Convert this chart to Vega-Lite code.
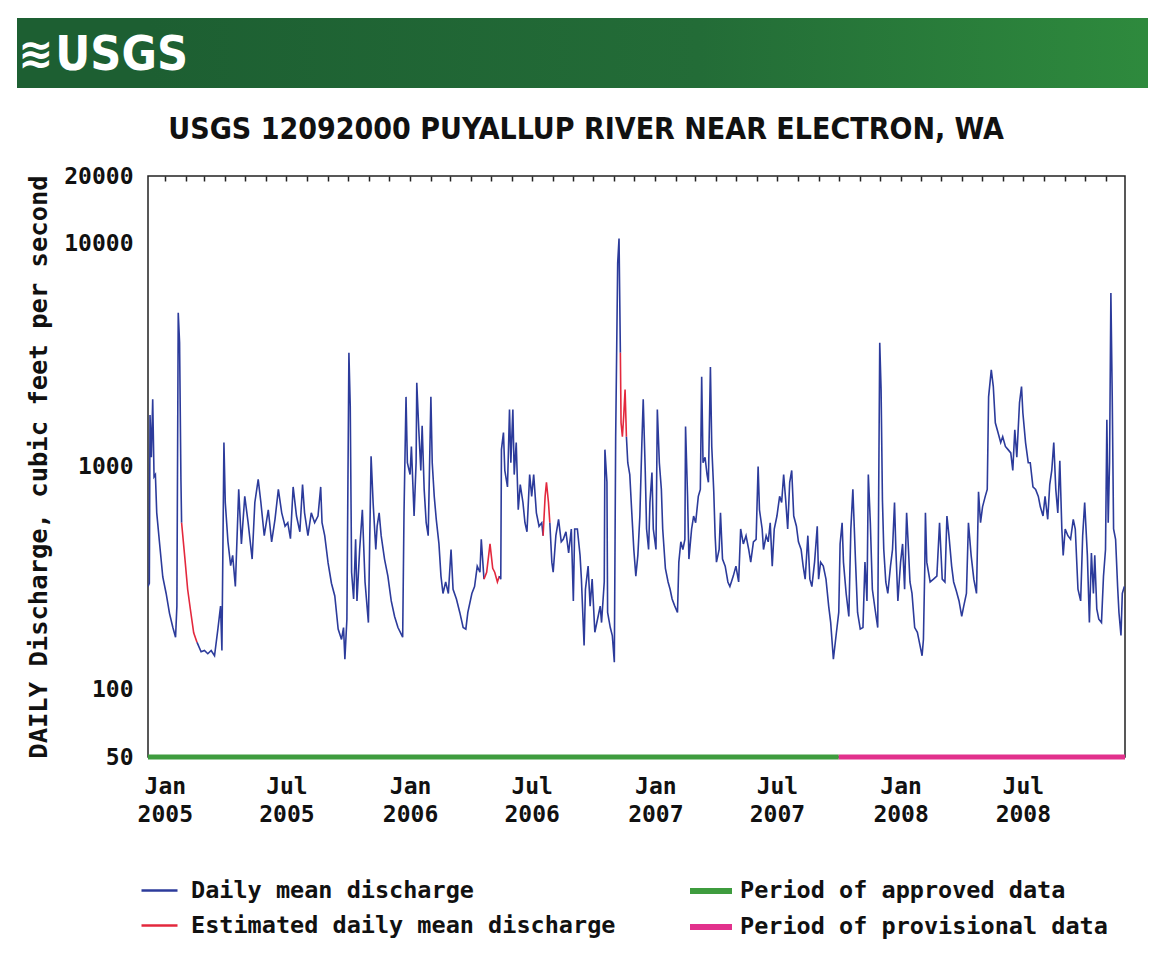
{
  "$schema": "https://vega.github.io/schema/vega-lite/v6.json",
  "background": "white",
  "padding": {"left": 17, "top": 18, "right": 5, "bottom": 5},
  "columns": 2,
  "align": "each",
  "bounds": "flush",
  "spacing": {"row": 88, "column": 0},
  "config": {
    "view": {"stroke": null},
    "axis": {"labelFont": "DejaVu Sans Mono", "labelFontWeight": "bold", "labelColor": "#111", "titleFont": "DejaVu Sans Mono", "titleFontWeight": "bold", "titleColor": "#111"},
    "legend": {"labelFont": "DejaVu Sans Mono", "labelFontWeight": "bold", "labelColor": "#111", "labelFontSize": 23.5, "labelLimit": 700, "padding": 0}
  },
  "concat": [
    {
      "width": 131,
      "height": 70,
      "data": {"values": [{"t": "≋"}]},
      "layer": [
        {"mark": {"type": "rect", "fill": "#1d5f32", "stroke": null}},
        {"mark": {"type": "text", "align": "center", "baseline": "middle", "dx": -47, "dy": 2, "fontSize": 42, "font": "DejaVu Sans, sans-serif", "fontWeight": "bold", "color": "white"}, "encoding": {"text": {"field": "t"}}}
      ]
    },
    {
      "width": 1000,
      "height": 70,
      "data": {"values": [{"t": "USGS"}]},
      "layer": [
        {"mark": {"type": "rect", "stroke": null, "fill": {"gradient": "linear", "x1": 0, "x2": 1, "y1": 0, "y2": 0, "stops": [{"offset": 0, "color": "#1d5f32"}, {"offset": 0.55, "color": "#236c37"}, {"offset": 1, "color": "#2e8a3d"}]}}},
        {"mark": {"type": "text", "align": "right", "baseline": "middle", "dx": -460, "dy": 3, "fontSize": 48, "font": "DejaVu Sans Condensed, DejaVu Sans, sans-serif", "fontWeight": "bold", "color": "white"}, "encoding": {"text": {"field": "t"}}}
      ]
    },
    {
      "width": 131,
      "height": 581,
      "data": {"values": []},
      "mark": "point"
    },
    {
      "width": 977,
      "height": 581,
      "view": {"stroke": "#222", "strokeWidth": 1.5},
      "title": {"text": "USGS 12092000 PUYALLUP RIVER NEAR ELECTRON, WA", "font": "DejaVu Sans Condensed, DejaVu Sans, sans-serif", "fontSize": 30, "fontWeight": "bold", "color": "#111", "anchor": "middle", "frame": "bounds", "baseline": "alphabetic", "offset": -4, "dx": 9},
      "resolve": {"scale": {"color": "independent"}, "axis": {"x": "independent"}},
      "layer": [
        {
          "data": {"values": [
            {"d":"2004-12-07","q":290,"s":1,"t":"D"},
            {"d":"2004-12-09","q":300,"s":1,"t":"D"},
            {"d":"2004-12-10","q":1700,"s":1,"t":"D"},
            {"d":"2004-12-12","q":1100,"s":1,"t":"D"},
            {"d":"2004-12-14","q":2000,"s":1,"t":"D"},
            {"d":"2004-12-16","q":900,"s":1,"t":"D"},
            {"d":"2004-12-18","q":920,"s":1,"t":"D"},
            {"d":"2004-12-20","q":620,"s":1,"t":"D"},
            {"d":"2004-12-24","q":460,"s":1,"t":"D"},
            {"d":"2004-12-29","q":320,"s":1,"t":"D"},
            {"d":"2005-01-03","q":270,"s":1,"t":"D"},
            {"d":"2005-01-08","q":220,"s":1,"t":"D"},
            {"d":"2005-01-13","q":190,"s":1,"t":"D"},
            {"d":"2005-01-17","q":172,"s":1,"t":"D"},
            {"d":"2005-01-19","q":237,"s":1,"t":"D"},
            {"d":"2005-01-21","q":4880,"s":1,"t":"D"},
            {"d":"2005-01-23","q":3580,"s":1,"t":"D"},
            {"d":"2005-01-25","q":875,"s":1,"t":"D"},
            {"d":"2005-01-26","q":560,"s":1,"t":"D"},
            {"d":"2005-01-26","q":560,"s":2,"t":"E"},
            {"d":"2005-01-31","q":385,"s":2,"t":"E"},
            {"d":"2005-02-04","q":282,"s":2,"t":"E"},
            {"d":"2005-02-08","q":230,"s":2,"t":"E"},
            {"d":"2005-02-13","q":180,"s":2,"t":"E"},
            {"d":"2005-02-18","q":163,"s":2,"t":"E"},
            {"d":"2005-02-18","q":163,"s":3,"t":"D"},
            {"d":"2005-02-24","q":148,"s":3,"t":"D"},
            {"d":"2005-03-01","q":150,"s":3,"t":"D"},
            {"d":"2005-03-06","q":145,"s":3,"t":"D"},
            {"d":"2005-03-11","q":150,"s":3,"t":"D"},
            {"d":"2005-03-16","q":142,"s":3,"t":"D"},
            {"d":"2005-03-21","q":187,"s":3,"t":"D"},
            {"d":"2005-03-25","q":237,"s":3,"t":"D"},
            {"d":"2005-03-27","q":150,"s":3,"t":"D"},
            {"d":"2005-03-30","q":1280,"s":3,"t":"D"},
            {"d":"2005-04-01","q":690,"s":3,"t":"D"},
            {"d":"2005-04-05","q":460,"s":3,"t":"D"},
            {"d":"2005-04-09","q":360,"s":3,"t":"D"},
            {"d":"2005-04-12","q":400,"s":3,"t":"D"},
            {"d":"2005-04-16","q":290,"s":3,"t":"D"},
            {"d":"2005-04-21","q":790,"s":3,"t":"D"},
            {"d":"2005-04-25","q":450,"s":3,"t":"D"},
            {"d":"2005-04-30","q":735,"s":3,"t":"D"},
            {"d":"2005-05-05","q":560,"s":3,"t":"D"},
            {"d":"2005-05-11","q":385,"s":3,"t":"D"},
            {"d":"2005-05-15","q":690,"s":3,"t":"D"},
            {"d":"2005-05-20","q":875,"s":3,"t":"D"},
            {"d":"2005-05-24","q":690,"s":3,"t":"D"},
            {"d":"2005-05-29","q":490,"s":3,"t":"D"},
            {"d":"2005-06-04","q":640,"s":3,"t":"D"},
            {"d":"2005-06-09","q":460,"s":3,"t":"D"},
            {"d":"2005-06-14","q":580,"s":3,"t":"D"},
            {"d":"2005-06-19","q":790,"s":3,"t":"D"},
            {"d":"2005-06-24","q":620,"s":3,"t":"D"},
            {"d":"2005-06-29","q":540,"s":3,"t":"D"},
            {"d":"2005-07-03","q":560,"s":3,"t":"D"},
            {"d":"2005-07-07","q":475,"s":3,"t":"D"},
            {"d":"2005-07-11","q":810,"s":3,"t":"D"},
            {"d":"2005-07-16","q":600,"s":3,"t":"D"},
            {"d":"2005-07-21","q":510,"s":3,"t":"D"},
            {"d":"2005-07-25","q":830,"s":3,"t":"D"},
            {"d":"2005-07-28","q":620,"s":3,"t":"D"},
            {"d":"2005-08-02","q":490,"s":3,"t":"D"},
            {"d":"2005-08-07","q":620,"s":3,"t":"D"},
            {"d":"2005-08-12","q":560,"s":3,"t":"D"},
            {"d":"2005-08-17","q":600,"s":3,"t":"D"},
            {"d":"2005-08-21","q":810,"s":3,"t":"D"},
            {"d":"2005-08-23","q":560,"s":3,"t":"D"},
            {"d":"2005-08-27","q":490,"s":3,"t":"D"},
            {"d":"2005-09-01","q":370,"s":3,"t":"D"},
            {"d":"2005-09-06","q":300,"s":3,"t":"D"},
            {"d":"2005-09-11","q":263,"s":3,"t":"D"},
            {"d":"2005-09-16","q":187,"s":3,"t":"D"},
            {"d":"2005-09-21","q":168,"s":3,"t":"D"},
            {"d":"2005-09-24","q":190,"s":3,"t":"D"},
            {"d":"2005-09-26","q":137,"s":3,"t":"D"},
            {"d":"2005-09-29","q":207,"s":3,"t":"D"},
            {"d":"2005-10-02","q":3230,"s":3,"t":"D"},
            {"d":"2005-10-04","q":1850,"s":3,"t":"D"},
            {"d":"2005-10-06","q":336,"s":3,"t":"D"},
            {"d":"2005-10-09","q":255,"s":3,"t":"D"},
            {"d":"2005-10-12","q":472,"s":3,"t":"D"},
            {"d":"2005-10-14","q":250,"s":3,"t":"D"},
            {"d":"2005-10-18","q":425,"s":3,"t":"D"},
            {"d":"2005-10-22","q":640,"s":3,"t":"D"},
            {"d":"2005-10-26","q":304,"s":3,"t":"D"},
            {"d":"2005-10-31","q":200,"s":3,"t":"D"},
            {"d":"2005-11-02","q":472,"s":3,"t":"D"},
            {"d":"2005-11-04","q":1110,"s":3,"t":"D"},
            {"d":"2005-11-07","q":690,"s":3,"t":"D"},
            {"d":"2005-11-11","q":425,"s":3,"t":"D"},
            {"d":"2005-11-13","q":540,"s":3,"t":"D"},
            {"d":"2005-11-16","q":620,"s":3,"t":"D"},
            {"d":"2005-11-19","q":490,"s":3,"t":"D"},
            {"d":"2005-11-24","q":385,"s":3,"t":"D"},
            {"d":"2005-11-29","q":323,"s":3,"t":"D"},
            {"d":"2005-12-04","q":250,"s":3,"t":"D"},
            {"d":"2005-12-09","q":213,"s":3,"t":"D"},
            {"d":"2005-12-14","q":190,"s":3,"t":"D"},
            {"d":"2005-12-21","q":172,"s":3,"t":"D"},
            {"d":"2005-12-23","q":620,"s":3,"t":"D"},
            {"d":"2005-12-26","q":2050,"s":3,"t":"D"},
            {"d":"2005-12-28","q":1040,"s":3,"t":"D"},
            {"d":"2006-01-01","q":920,"s":3,"t":"D"},
            {"d":"2006-01-03","q":1230,"s":3,"t":"D"},
            {"d":"2006-01-07","q":600,"s":3,"t":"D"},
            {"d":"2006-01-10","q":1040,"s":3,"t":"D"},
            {"d":"2006-01-11","q":2370,"s":3,"t":"D"},
            {"d":"2006-01-14","q":1460,"s":3,"t":"D"},
            {"d":"2006-01-17","q":960,"s":3,"t":"D"},
            {"d":"2006-01-19","q":1520,"s":3,"t":"D"},
            {"d":"2006-01-22","q":790,"s":3,"t":"D"},
            {"d":"2006-01-25","q":560,"s":3,"t":"D"},
            {"d":"2006-01-28","q":490,"s":3,"t":"D"},
            {"d":"2006-02-01","q":2050,"s":3,"t":"D"},
            {"d":"2006-02-03","q":1040,"s":3,"t":"D"},
            {"d":"2006-02-06","q":735,"s":3,"t":"D"},
            {"d":"2006-02-09","q":580,"s":3,"t":"D"},
            {"d":"2006-02-13","q":450,"s":3,"t":"D"},
            {"d":"2006-02-16","q":323,"s":3,"t":"D"},
            {"d":"2006-02-19","q":270,"s":3,"t":"D"},
            {"d":"2006-02-23","q":304,"s":3,"t":"D"},
            {"d":"2006-02-27","q":270,"s":3,"t":"D"},
            {"d":"2006-03-03","q":425,"s":3,"t":"D"},
            {"d":"2006-03-06","q":282,"s":3,"t":"D"},
            {"d":"2006-03-11","q":255,"s":3,"t":"D"},
            {"d":"2006-03-16","q":222,"s":3,"t":"D"},
            {"d":"2006-03-21","q":190,"s":3,"t":"D"},
            {"d":"2006-03-25","q":187,"s":3,"t":"D"},
            {"d":"2006-03-28","q":222,"s":3,"t":"D"},
            {"d":"2006-04-03","q":270,"s":3,"t":"D"},
            {"d":"2006-04-07","q":290,"s":3,"t":"D"},
            {"d":"2006-04-11","q":358,"s":3,"t":"D"},
            {"d":"2006-04-15","q":336,"s":3,"t":"D"},
            {"d":"2006-04-17","q":472,"s":3,"t":"D"},
            {"d":"2006-04-21","q":313,"s":3,"t":"D"},
            {"d":"2006-04-21","q":313,"s":4,"t":"E"},
            {"d":"2006-04-25","q":336,"s":4,"t":"E"},
            {"d":"2006-04-30","q":450,"s":4,"t":"E"},
            {"d":"2006-05-04","q":350,"s":4,"t":"E"},
            {"d":"2006-05-07","q":336,"s":4,"t":"E"},
            {"d":"2006-05-11","q":304,"s":4,"t":"E"},
            {"d":"2006-05-14","q":323,"s":4,"t":"E"},
            {"d":"2006-05-14","q":323,"s":5,"t":"D"},
            {"d":"2006-05-16","q":313,"s":5,"t":"D"},
            {"d":"2006-05-17","q":1190,"s":5,"t":"D"},
            {"d":"2006-05-20","q":1420,"s":5,"t":"D"},
            {"d":"2006-05-22","q":960,"s":5,"t":"D"},
            {"d":"2006-05-26","q":810,"s":5,"t":"D"},
            {"d":"2006-05-29","q":1800,"s":5,"t":"D"},
            {"d":"2006-05-31","q":1040,"s":5,"t":"D"},
            {"d":"2006-06-03","q":1800,"s":5,"t":"D"},
            {"d":"2006-06-05","q":920,"s":5,"t":"D"},
            {"d":"2006-06-08","q":1280,"s":5,"t":"D"},
            {"d":"2006-06-11","q":640,"s":5,"t":"D"},
            {"d":"2006-06-14","q":830,"s":5,"t":"D"},
            {"d":"2006-06-18","q":690,"s":5,"t":"D"},
            {"d":"2006-06-21","q":560,"s":5,"t":"D"},
            {"d":"2006-06-24","q":510,"s":5,"t":"D"},
            {"d":"2006-06-28","q":920,"s":5,"t":"D"},
            {"d":"2006-07-01","q":735,"s":5,"t":"D"},
            {"d":"2006-07-04","q":920,"s":5,"t":"D"},
            {"d":"2006-07-08","q":620,"s":5,"t":"D"},
            {"d":"2006-07-12","q":540,"s":5,"t":"D"},
            {"d":"2006-07-16","q":560,"s":5,"t":"D"},
            {"d":"2006-07-18","q":490,"s":5,"t":"D"},
            {"d":"2006-07-18","q":490,"s":6,"t":"E"},
            {"d":"2006-07-21","q":735,"s":6,"t":"E"},
            {"d":"2006-07-23","q":850,"s":6,"t":"E"},
            {"d":"2006-07-26","q":690,"s":6,"t":"E"},
            {"d":"2006-07-28","q":560,"s":6,"t":"E"},
            {"d":"2006-07-28","q":560,"s":7,"t":"D"},
            {"d":"2006-07-31","q":373,"s":7,"t":"D"},
            {"d":"2006-08-02","q":336,"s":7,"t":"D"},
            {"d":"2006-08-06","q":490,"s":7,"t":"D"},
            {"d":"2006-08-10","q":580,"s":7,"t":"D"},
            {"d":"2006-08-14","q":460,"s":7,"t":"D"},
            {"d":"2006-08-17","q":472,"s":7,"t":"D"},
            {"d":"2006-08-21","q":510,"s":7,"t":"D"},
            {"d":"2006-08-25","q":410,"s":7,"t":"D"},
            {"d":"2006-08-29","q":525,"s":7,"t":"D"},
            {"d":"2006-09-01","q":250,"s":7,"t":"D"},
            {"d":"2006-09-03","q":525,"s":7,"t":"D"},
            {"d":"2006-09-07","q":525,"s":7,"t":"D"},
            {"d":"2006-09-11","q":400,"s":7,"t":"D"},
            {"d":"2006-09-13","q":313,"s":7,"t":"D"},
            {"d":"2006-09-17","q":158,"s":7,"t":"D"},
            {"d":"2006-09-19","q":282,"s":7,"t":"D"},
            {"d":"2006-09-23","q":358,"s":7,"t":"D"},
            {"d":"2006-09-26","q":237,"s":7,"t":"D"},
            {"d":"2006-09-29","q":313,"s":7,"t":"D"},
            {"d":"2006-10-03","q":181,"s":7,"t":"D"},
            {"d":"2006-10-07","q":207,"s":7,"t":"D"},
            {"d":"2006-10-11","q":237,"s":7,"t":"D"},
            {"d":"2006-10-13","q":200,"s":7,"t":"D"},
            {"d":"2006-10-17","q":304,"s":7,"t":"D"},
            {"d":"2006-10-18","q":1190,"s":7,"t":"D"},
            {"d":"2006-10-21","q":850,"s":7,"t":"D"},
            {"d":"2006-10-22","q":222,"s":7,"t":"D"},
            {"d":"2006-10-26","q":190,"s":7,"t":"D"},
            {"d":"2006-10-29","q":175,"s":7,"t":"D"},
            {"d":"2006-11-01","q":133,"s":7,"t":"D"},
            {"d":"2006-11-03","q":1360,"s":7,"t":"D"},
            {"d":"2006-11-06","q":8150,"s":7,"t":"D"},
            {"d":"2006-11-08","q":10500,"s":7,"t":"D"},
            {"d":"2006-11-10","q":3230,"s":7,"t":"D"},
            {"d":"2006-11-10","q":3230,"s":8,"t":"E"},
            {"d":"2006-11-11","q":1570,"s":8,"t":"E"},
            {"d":"2006-11-13","q":1360,"s":8,"t":"E"},
            {"d":"2006-11-15","q":1690,"s":8,"t":"E"},
            {"d":"2006-11-17","q":2210,"s":8,"t":"E"},
            {"d":"2006-11-19","q":1360,"s":8,"t":"E"},
            {"d":"2006-11-19","q":1360,"s":9,"t":"D"},
            {"d":"2006-11-21","q":1040,"s":9,"t":"D"},
            {"d":"2006-11-24","q":920,"s":9,"t":"D"},
            {"d":"2006-11-27","q":620,"s":9,"t":"D"},
            {"d":"2006-11-30","q":425,"s":9,"t":"D"},
            {"d":"2006-12-03","q":323,"s":9,"t":"D"},
            {"d":"2006-12-06","q":400,"s":9,"t":"D"},
            {"d":"2006-12-09","q":600,"s":9,"t":"D"},
            {"d":"2006-12-12","q":1280,"s":9,"t":"D"},
            {"d":"2006-12-14","q":2000,"s":9,"t":"D"},
            {"d":"2006-12-17","q":960,"s":9,"t":"D"},
            {"d":"2006-12-19","q":525,"s":9,"t":"D"},
            {"d":"2006-12-22","q":425,"s":9,"t":"D"},
            {"d":"2006-12-24","q":690,"s":9,"t":"D"},
            {"d":"2006-12-27","q":940,"s":9,"t":"D"},
            {"d":"2006-12-29","q":525,"s":9,"t":"D"},
            {"d":"2007-01-02","q":425,"s":9,"t":"D"},
            {"d":"2007-01-04","q":1800,"s":9,"t":"D"},
            {"d":"2007-01-07","q":1040,"s":9,"t":"D"},
            {"d":"2007-01-10","q":790,"s":9,"t":"D"},
            {"d":"2007-01-12","q":525,"s":9,"t":"D"},
            {"d":"2007-01-16","q":350,"s":9,"t":"D"},
            {"d":"2007-01-20","q":304,"s":9,"t":"D"},
            {"d":"2007-01-23","q":282,"s":9,"t":"D"},
            {"d":"2007-01-26","q":255,"s":9,"t":"D"},
            {"d":"2007-01-30","q":237,"s":9,"t":"D"},
            {"d":"2007-02-03","q":222,"s":9,"t":"D"},
            {"d":"2007-02-05","q":373,"s":9,"t":"D"},
            {"d":"2007-02-08","q":460,"s":9,"t":"D"},
            {"d":"2007-02-11","q":425,"s":9,"t":"D"},
            {"d":"2007-02-14","q":472,"s":9,"t":"D"},
            {"d":"2007-02-15","q":1510,"s":9,"t":"D"},
            {"d":"2007-02-18","q":735,"s":9,"t":"D"},
            {"d":"2007-02-20","q":385,"s":9,"t":"D"},
            {"d":"2007-02-24","q":525,"s":9,"t":"D"},
            {"d":"2007-02-27","q":600,"s":9,"t":"D"},
            {"d":"2007-03-02","q":560,"s":9,"t":"D"},
            {"d":"2007-03-06","q":735,"s":9,"t":"D"},
            {"d":"2007-03-09","q":790,"s":9,"t":"D"},
            {"d":"2007-03-11","q":2520,"s":9,"t":"D"},
            {"d":"2007-03-13","q":1040,"s":9,"t":"D"},
            {"d":"2007-03-16","q":1100,"s":9,"t":"D"},
            {"d":"2007-03-19","q":920,"s":9,"t":"D"},
            {"d":"2007-03-21","q":850,"s":9,"t":"D"},
            {"d":"2007-03-24","q":2790,"s":9,"t":"D"},
            {"d":"2007-03-26","q":1230,"s":9,"t":"D"},
            {"d":"2007-03-29","q":770,"s":9,"t":"D"},
            {"d":"2007-03-31","q":490,"s":9,"t":"D"},
            {"d":"2007-04-02","q":373,"s":9,"t":"D"},
            {"d":"2007-04-06","q":425,"s":9,"t":"D"},
            {"d":"2007-04-08","q":620,"s":9,"t":"D"},
            {"d":"2007-04-11","q":385,"s":9,"t":"D"},
            {"d":"2007-04-15","q":358,"s":9,"t":"D"},
            {"d":"2007-04-19","q":304,"s":9,"t":"D"},
            {"d":"2007-04-22","q":290,"s":9,"t":"D"},
            {"d":"2007-04-27","q":323,"s":9,"t":"D"},
            {"d":"2007-05-01","q":358,"s":9,"t":"D"},
            {"d":"2007-05-05","q":304,"s":9,"t":"D"},
            {"d":"2007-05-08","q":525,"s":9,"t":"D"},
            {"d":"2007-05-12","q":450,"s":9,"t":"D"},
            {"d":"2007-05-16","q":490,"s":9,"t":"D"},
            {"d":"2007-05-20","q":425,"s":9,"t":"D"},
            {"d":"2007-05-23","q":373,"s":9,"t":"D"},
            {"d":"2007-05-27","q":460,"s":9,"t":"D"},
            {"d":"2007-05-31","q":472,"s":9,"t":"D"},
            {"d":"2007-06-03","q":1000,"s":9,"t":"D"},
            {"d":"2007-06-05","q":640,"s":9,"t":"D"},
            {"d":"2007-06-09","q":525,"s":9,"t":"D"},
            {"d":"2007-06-11","q":425,"s":9,"t":"D"},
            {"d":"2007-06-15","q":490,"s":9,"t":"D"},
            {"d":"2007-06-18","q":460,"s":9,"t":"D"},
            {"d":"2007-06-21","q":560,"s":9,"t":"D"},
            {"d":"2007-06-24","q":358,"s":9,"t":"D"},
            {"d":"2007-06-27","q":525,"s":9,"t":"D"},
            {"d":"2007-07-01","q":600,"s":9,"t":"D"},
            {"d":"2007-07-05","q":735,"s":9,"t":"D"},
            {"d":"2007-07-08","q":690,"s":9,"t":"D"},
            {"d":"2007-07-11","q":920,"s":9,"t":"D"},
            {"d":"2007-07-14","q":710,"s":9,"t":"D"},
            {"d":"2007-07-17","q":525,"s":9,"t":"D"},
            {"d":"2007-07-20","q":850,"s":9,"t":"D"},
            {"d":"2007-07-23","q":960,"s":9,"t":"D"},
            {"d":"2007-07-26","q":600,"s":9,"t":"D"},
            {"d":"2007-07-30","q":540,"s":9,"t":"D"},
            {"d":"2007-08-02","q":460,"s":9,"t":"D"},
            {"d":"2007-08-06","q":425,"s":9,"t":"D"},
            {"d":"2007-08-09","q":358,"s":9,"t":"D"},
            {"d":"2007-08-12","q":313,"s":9,"t":"D"},
            {"d":"2007-08-16","q":490,"s":9,"t":"D"},
            {"d":"2007-08-19","q":313,"s":9,"t":"D"},
            {"d":"2007-08-22","q":290,"s":9,"t":"D"},
            {"d":"2007-08-26","q":373,"s":9,"t":"D"},
            {"d":"2007-08-30","q":540,"s":9,"t":"D"},
            {"d":"2007-09-01","q":313,"s":9,"t":"D"},
            {"d":"2007-09-04","q":373,"s":9,"t":"D"},
            {"d":"2007-09-08","q":358,"s":9,"t":"D"},
            {"d":"2007-09-12","q":313,"s":9,"t":"D"},
            {"d":"2007-09-16","q":237,"s":9,"t":"D"},
            {"d":"2007-09-19","q":200,"s":9,"t":"D"},
            {"d":"2007-09-23","q":137,"s":9,"t":"D"},
            {"d":"2007-09-27","q":175,"s":9,"t":"D"},
            {"d":"2007-10-01","q":222,"s":9,"t":"D"},
            {"d":"2007-10-03","q":450,"s":9,"t":"D"},
            {"d":"2007-10-06","q":560,"s":9,"t":"D"},
            {"d":"2007-10-08","q":373,"s":9,"t":"D"},
            {"d":"2007-10-12","q":270,"s":9,"t":"D"},
            {"d":"2007-10-16","q":213,"s":9,"t":"D"},
            {"d":"2007-10-19","q":525,"s":9,"t":"D"},
            {"d":"2007-10-22","q":790,"s":9,"t":"D"},
            {"d":"2007-10-26","q":373,"s":9,"t":"D"},
            {"d":"2007-10-29","q":222,"s":9,"t":"D"},
            {"d":"2007-11-02","q":187,"s":9,"t":"D"},
            {"d":"2007-11-06","q":190,"s":9,"t":"D"},
            {"d":"2007-11-09","q":373,"s":9,"t":"D"},
            {"d":"2007-11-12","q":250,"s":9,"t":"D"},
            {"d":"2007-11-14","q":920,"s":9,"t":"D"},
            {"d":"2007-11-17","q":560,"s":9,"t":"D"},
            {"d":"2007-11-20","q":282,"s":9,"t":"D"},
            {"d":"2007-11-24","q":230,"s":9,"t":"D"},
            {"d":"2007-11-28","q":190,"s":9,"t":"D"},
            {"d":"2007-12-01","q":3580,"s":9,"t":"D"},
            {"d":"2007-12-03","q":2210,"s":9,"t":"D"},
            {"d":"2007-12-05","q":710,"s":9,"t":"D"},
            {"d":"2007-12-07","q":425,"s":9,"t":"D"},
            {"d":"2007-12-10","q":304,"s":9,"t":"D"},
            {"d":"2007-12-13","q":270,"s":9,"t":"D"},
            {"d":"2007-12-17","q":358,"s":9,"t":"D"},
            {"d":"2007-12-20","q":425,"s":9,"t":"D"},
            {"d":"2007-12-23","q":690,"s":9,"t":"D"},
            {"d":"2007-12-25","q":425,"s":9,"t":"D"},
            {"d":"2007-12-28","q":250,"s":9,"t":"D"},
            {"d":"2008-01-01","q":373,"s":9,"t":"D"},
            {"d":"2008-01-04","q":450,"s":9,"t":"D"},
            {"d":"2008-01-07","q":282,"s":9,"t":"D"},
            {"d":"2008-01-10","q":620,"s":9,"t":"D"},
            {"d":"2008-01-12","q":472,"s":9,"t":"D"},
            {"d":"2008-01-15","q":304,"s":9,"t":"D"},
            {"d":"2008-01-18","q":270,"s":9,"t":"D"},
            {"d":"2008-01-22","q":190,"s":9,"t":"D"},
            {"d":"2008-01-26","q":181,"s":9,"t":"D"},
            {"d":"2008-01-29","q":163,"s":9,"t":"D"},
            {"d":"2008-02-02","q":142,"s":9,"t":"D"},
            {"d":"2008-02-04","q":168,"s":9,"t":"D"},
            {"d":"2008-02-06","q":350,"s":9,"t":"D"},
            {"d":"2008-02-07","q":620,"s":9,"t":"D"},
            {"d":"2008-02-09","q":373,"s":9,"t":"D"},
            {"d":"2008-02-14","q":304,"s":9,"t":"D"},
            {"d":"2008-02-19","q":313,"s":9,"t":"D"},
            {"d":"2008-02-24","q":323,"s":9,"t":"D"},
            {"d":"2008-02-28","q":560,"s":9,"t":"D"},
            {"d":"2008-03-03","q":313,"s":9,"t":"D"},
            {"d":"2008-03-07","q":304,"s":9,"t":"D"},
            {"d":"2008-03-10","q":600,"s":9,"t":"D"},
            {"d":"2008-03-13","q":490,"s":9,"t":"D"},
            {"d":"2008-03-17","q":358,"s":9,"t":"D"},
            {"d":"2008-03-20","q":304,"s":9,"t":"D"},
            {"d":"2008-03-24","q":277,"s":9,"t":"D"},
            {"d":"2008-03-28","q":250,"s":9,"t":"D"},
            {"d":"2008-04-01","q":213,"s":9,"t":"D"},
            {"d":"2008-04-04","q":237,"s":9,"t":"D"},
            {"d":"2008-04-08","q":270,"s":9,"t":"D"},
            {"d":"2008-04-11","q":560,"s":9,"t":"D"},
            {"d":"2008-04-15","q":400,"s":9,"t":"D"},
            {"d":"2008-04-19","q":313,"s":9,"t":"D"},
            {"d":"2008-04-23","q":270,"s":9,"t":"D"},
            {"d":"2008-04-26","q":770,"s":9,"t":"D"},
            {"d":"2008-04-29","q":560,"s":9,"t":"D"},
            {"d":"2008-05-02","q":660,"s":9,"t":"D"},
            {"d":"2008-05-06","q":735,"s":9,"t":"D"},
            {"d":"2008-05-09","q":790,"s":9,"t":"D"},
            {"d":"2008-05-11","q":2050,"s":9,"t":"D"},
            {"d":"2008-05-15","q":2710,"s":9,"t":"D"},
            {"d":"2008-05-18","q":2280,"s":9,"t":"D"},
            {"d":"2008-05-21","q":1570,"s":9,"t":"D"},
            {"d":"2008-05-25","q":1420,"s":9,"t":"D"},
            {"d":"2008-05-29","q":1280,"s":9,"t":"D"},
            {"d":"2008-06-01","q":1360,"s":9,"t":"D"},
            {"d":"2008-06-05","q":1230,"s":9,"t":"D"},
            {"d":"2008-06-09","q":1190,"s":9,"t":"D"},
            {"d":"2008-06-13","q":1150,"s":9,"t":"D"},
            {"d":"2008-06-16","q":960,"s":9,"t":"D"},
            {"d":"2008-06-19","q":1460,"s":9,"t":"D"},
            {"d":"2008-06-22","q":1100,"s":9,"t":"D"},
            {"d":"2008-06-26","q":1930,"s":9,"t":"D"},
            {"d":"2008-06-29","q":2280,"s":9,"t":"D"},
            {"d":"2008-07-01","q":1740,"s":9,"t":"D"},
            {"d":"2008-07-05","q":1280,"s":9,"t":"D"},
            {"d":"2008-07-09","q":1040,"s":9,"t":"D"},
            {"d":"2008-07-12","q":1040,"s":9,"t":"D"},
            {"d":"2008-07-16","q":810,"s":9,"t":"D"},
            {"d":"2008-07-20","q":790,"s":9,"t":"D"},
            {"d":"2008-07-24","q":735,"s":9,"t":"D"},
            {"d":"2008-07-27","q":660,"s":9,"t":"D"},
            {"d":"2008-07-31","q":600,"s":9,"t":"D"},
            {"d":"2008-08-03","q":735,"s":9,"t":"D"},
            {"d":"2008-08-07","q":580,"s":9,"t":"D"},
            {"d":"2008-08-10","q":830,"s":9,"t":"D"},
            {"d":"2008-08-13","q":960,"s":9,"t":"D"},
            {"d":"2008-08-16","q":1280,"s":9,"t":"D"},
            {"d":"2008-08-19","q":790,"s":9,"t":"D"},
            {"d":"2008-08-22","q":620,"s":9,"t":"D"},
            {"d":"2008-08-25","q":1060,"s":9,"t":"D"},
            {"d":"2008-08-28","q":525,"s":9,"t":"D"},
            {"d":"2008-08-30","q":400,"s":9,"t":"D"},
            {"d":"2008-09-02","q":525,"s":9,"t":"D"},
            {"d":"2008-09-06","q":490,"s":9,"t":"D"},
            {"d":"2008-09-10","q":472,"s":9,"t":"D"},
            {"d":"2008-09-14","q":580,"s":9,"t":"D"},
            {"d":"2008-09-17","q":525,"s":9,"t":"D"},
            {"d":"2008-09-21","q":282,"s":9,"t":"D"},
            {"d":"2008-09-25","q":250,"s":9,"t":"D"},
            {"d":"2008-09-28","q":490,"s":9,"t":"D"},
            {"d":"2008-10-01","q":690,"s":9,"t":"D"},
            {"d":"2008-10-05","q":400,"s":9,"t":"D"},
            {"d":"2008-10-08","q":200,"s":9,"t":"D"},
            {"d":"2008-10-11","q":410,"s":9,"t":"D"},
            {"d":"2008-10-14","q":270,"s":9,"t":"D"},
            {"d":"2008-10-16","q":400,"s":9,"t":"D"},
            {"d":"2008-10-19","q":230,"s":9,"t":"D"},
            {"d":"2008-10-22","q":207,"s":9,"t":"D"},
            {"d":"2008-10-26","q":200,"s":9,"t":"D"},
            {"d":"2008-10-29","q":323,"s":9,"t":"D"},
            {"d":"2008-11-01","q":425,"s":9,"t":"D"},
            {"d":"2008-11-03","q":1620,"s":9,"t":"D"},
            {"d":"2008-11-05","q":560,"s":9,"t":"D"},
            {"d":"2008-11-07","q":1040,"s":9,"t":"D"},
            {"d":"2008-11-09","q":5980,"s":9,"t":"D"},
            {"d":"2008-11-11","q":2050,"s":9,"t":"D"},
            {"d":"2008-11-13","q":525,"s":9,"t":"D"},
            {"d":"2008-11-16","q":472,"s":9,"t":"D"},
            {"d":"2008-11-19","q":290,"s":9,"t":"D"},
            {"d":"2008-11-21","q":222,"s":9,"t":"D"},
            {"d":"2008-11-24","q":175,"s":9,"t":"D"},
            {"d":"2008-11-26","q":270,"s":9,"t":"D"},
            {"d":"2008-11-29","q":290,"s":9,"t":"D"}
          ]},
          "mark": {"type": "line", "strokeWidth": 1.6, "clip": true},
          "encoding": {
            "x": {
              "field": "d", "type": "temporal",
              "scale": {"type": "utc", "nice": false, "domain": [{"year": 2004, "month": 12, "date": 7, "utc": true}, {"year": 2008, "month": 11, "date": 30, "utc": true}]},
              "axis": {
                "orient": "bottom", "title": null, "grid": false, "ticks": false, "domain": false,
                "values": [
                  {"year": 2005, "month": 1, "date": 1, "utc": true}, {"year": 2005, "month": 7, "date": 1, "utc": true},
                  {"year": 2006, "month": 1, "date": 1, "utc": true}, {"year": 2006, "month": 7, "date": 1, "utc": true},
                  {"year": 2007, "month": 1, "date": 1, "utc": true}, {"year": 2007, "month": 7, "date": 1, "utc": true},
                  {"year": 2008, "month": 1, "date": 1, "utc": true}, {"year": 2008, "month": 7, "date": 1, "utc": true}
                ],
                "labelExpr": "[utcFormat(datum.value, '%b'), utcFormat(datum.value, '%Y')]",
                "labelFontSize": 23, "labelPadding": 18, "labelLineHeight": 28, "labelAlign": "center", "labelBaseline": "top", "labelFlush": false, "labelOverlap": false
              }
            },
            "y": {
              "field": "q", "type": "quantitative",
              "scale": {"type": "log", "nice": false, "domain": [50, 20000]},
              "axis": {
                "values": [50, 100, 1000, 10000, 20000], "format": "d", "ticks": false, "domain": false, "grid": false,
                "labelFontSize": 23, "labelPadding": 15, "labelFlush": false,
                "title": "DAILY Discharge, cubic feet per second", "titleFontSize": 25.5, "titlePadding": 12
              }
            },
            "color": {
              "field": "t", "type": "nominal",
              "scale": {"domain": ["D", "E"], "range": ["#2c3b9b", "#e3283d"]},
              "legend": {
                "orient": "none", "legendX": -8, "legendY": 695, "title": null, "direction": "vertical",
                "symbolType": "stroke", "symbolSize": 1296, "symbolStrokeWidth": 2.5, "labelOffset": 12, "rowPadding": 4,
                "labelExpr": "datum.label == 'D' ? 'Daily mean discharge' : 'Estimated daily mean discharge'"
              }
            },
            "detail": {"field": "s", "type": "nominal"}
          }
        },
        {
          "data": {"values": [
            {"p": "Period of approved data", "a": "2004-12-07", "b": "2007-10-01"},
            {"p": "Period of provisional data", "a": "2007-10-01", "b": "2008-11-30"}
          ]},
          "mark": {"type": "rule", "strokeWidth": 5},
          "encoding": {
            "x": {
              "field": "a", "type": "temporal",
              "axis": {"orient": "top", "title": null, "labels": false, "domain": false, "grid": false, "ticks": true, "tickSize": -5, "tickWidth": 1.5, "tickColor": "#222", "tickCount": {"interval": "month", "step": 1}}
            },
            "x2": {"field": "b"},
            "y": {"datum": 50},
            "color": {
              "field": "p", "type": "nominal",
              "scale": {"domain": ["Period of approved data", "Period of provisional data"], "range": ["#3e9c3e", "#e2318c"]},
              "legend": {
                "orient": "none", "legendX": 539, "legendY": 691, "title": null, "direction": "vertical",
                "symbolType": "stroke", "symbolSize": 1764, "symbolStrokeWidth": 6, "labelOffset": 5, "rowPadding": -6
              }
            }
          }
        }
      ]
    }
  ]
}
